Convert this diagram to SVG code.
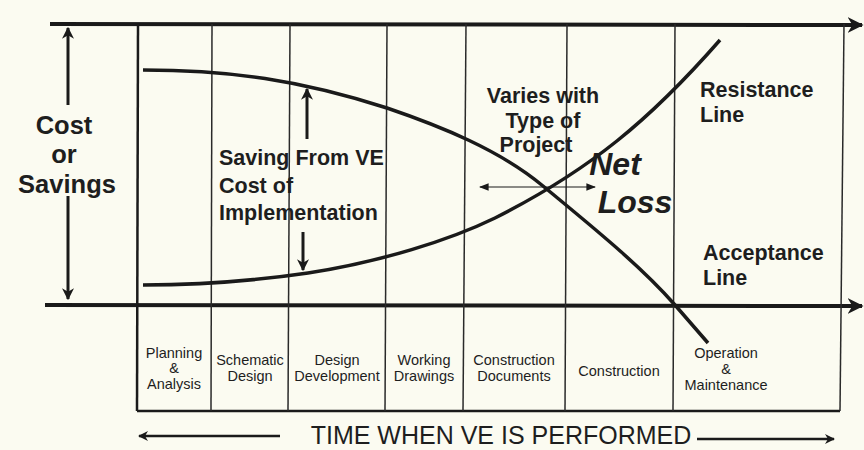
<svg xmlns="http://www.w3.org/2000/svg" width="864" height="450" viewBox="0 0 864 450">
<defs>
<style>
.ax{stroke:#1a1a1a;stroke-width:4;fill:none}
.grid{stroke:#2a2a2a;stroke-width:1.5;fill:none}
.curve{stroke:#1a1a1a;stroke-width:3.5;fill:none}
.arr{stroke:#1a1a1a;stroke-width:3;fill:none}
.thin{stroke:#1a1a1a;stroke-width:1.2;fill:none}
.b{font-family:"Liberation Sans",Arial,sans-serif;font-weight:bold;fill:#1e1e1e}
.lab{font-family:"Liberation Sans",Arial,sans-serif;font-size:14.5px;fill:#1e1e1e;text-anchor:middle}
</style>
<marker id="hb" viewBox="0 0 10 10" refX="9" refY="5" markerWidth="4" markerHeight="4" orient="auto-start-reverse" markerUnits="strokeWidth"><path d="M0,0 L10,5 L0,10 L3,5 Z" fill="#1a1a1a"/></marker>
<marker id="ht" viewBox="0 0 10 10" refX="9" refY="5" markerWidth="8" markerHeight="8" orient="auto-start-reverse" markerUnits="strokeWidth"><path d="M0,1 L10,5 L0,9 Z" fill="#1a1a1a"/></marker>
</defs>
<rect width="864" height="450" fill="#fbfbf1"/>
<g id="axes">
<line class="ax" x1="50" y1="24" x2="862" y2="25" marker-end="url(#hb)"/>
<line class="ax" x1="45" y1="305" x2="862" y2="306" marker-end="url(#hb)"/>
<line class="ax" x1="137" y1="411" x2="840" y2="411" style="stroke-width:2.5"/>
</g>
<g id="grid">
<line class="ax" x1="138" y1="24" x2="137" y2="411" style="stroke-width:2.5"/>
<line class="grid" x1="212" y1="24" x2="211" y2="411"/>
<line class="grid" x1="290" y1="24" x2="288" y2="411"/>
<line class="grid" x1="387" y1="24" x2="385" y2="411"/>
<line class="grid" x1="466" y1="24" x2="463" y2="411"/>
<line class="grid" x1="567" y1="24" x2="565" y2="411"/>
<line class="grid" x1="675" y1="24" x2="673" y2="411"/>
<line class="grid" x1="844" y1="24" x2="840" y2="411"/>
</g>
<g id="connectors">
<path id="acceptance-curve" class="curve" d="M143,70 C230,70 300,80 387,108 C440,126 500,150 543,186 C590,225 640,265 675,305 L708,343"/>
<path id="resistance-curve" class="curve" d="M143,285 C200,285 260,280 308,273 C380,262 450,240 495,218 C590,170 650,120 720,40"/>
<line class="arr" x1="68" y1="105" x2="68" y2="28" marker-end="url(#hb)"/>
<line class="arr" x1="68" y1="196" x2="68" y2="299" marker-end="url(#hb)"/>
<line class="arr" x1="307" y1="139" x2="307" y2="89" marker-end="url(#hb)"/>
<line class="arr" x1="303" y1="232" x2="303" y2="270" marker-end="url(#hb)"/>
<line class="thin" x1="480" y1="187" x2="595" y2="187" marker-start="url(#ht)" marker-end="url(#ht)"/>
<line class="arr" x1="280" y1="436" x2="139" y2="436" marker-end="url(#hb)" style="stroke-width:2.5"/>
<line class="arr" x1="697" y1="439" x2="834" y2="439" marker-end="url(#hb)" style="stroke-width:2.5"/>
</g>
<g id="cost-label" class="b" style="font-size:25.5px" text-anchor="middle">
<text x="64" y="134">Cost</text>
<text x="64" y="163">or</text>
<text x="67" y="193">Savings</text>
</g>
<g id="saving-label" class="b" style="font-size:21.5px">
<text x="219" y="165">Saving From VE</text>
<text x="219" y="193">Cost of</text>
<text x="219" y="220">Implementation</text>
</g>
<g id="varies-label" class="b" style="font-size:21.5px" text-anchor="middle">
<text x="543" y="103">Varies with</text>
<text x="543" y="128">Type of</text>
<text x="536" y="152">Project</text>
</g>
<g id="net-loss" class="b" style="font-size:32px;font-style:italic" text-anchor="middle">
<text x="615" y="175">Net</text>
<text x="635" y="213">Loss</text>
</g>
<g id="resistance-label" class="b" style="font-size:21.5px">
<text x="700" y="97">Resistance</text>
<text x="700" y="122">Line</text>
</g>
<g id="acceptance-label" class="b" style="font-size:21.5px">
<text x="703" y="260">Acceptance</text>
<text x="703" y="285">Line</text>
</g>
<g id="phase-planning" class="lab"><text x="174" y="358">Planning</text><text x="174" y="373">&amp;</text><text x="174" y="389">Analysis</text></g>
<g id="phase-schematic" class="lab"><text x="250" y="365">Schematic</text><text x="250" y="381">Design</text></g>
<g id="phase-design" class="lab"><text x="337" y="365">Design</text><text x="337" y="381">Development</text></g>
<g id="phase-working" class="lab"><text x="424" y="365">Working</text><text x="424" y="381">Drawings</text></g>
<g id="phase-cdocs" class="lab"><text x="514" y="365">Construction</text><text x="514" y="381">Documents</text></g>
<g id="phase-construction" class="lab"><text x="619" y="376">Construction</text></g>
<g id="phase-om" class="lab"><text x="726" y="358">Operation</text><text x="726" y="374">&amp;</text><text x="726" y="390">Maintenance</text></g>
<g id="time-label"><text x="501" y="444" text-anchor="middle" style="font-family:'Liberation Sans',Arial,sans-serif;font-size:25px;fill:#1e1e1e">TIME WHEN VE IS PERFORMED</text></g>
</svg>
